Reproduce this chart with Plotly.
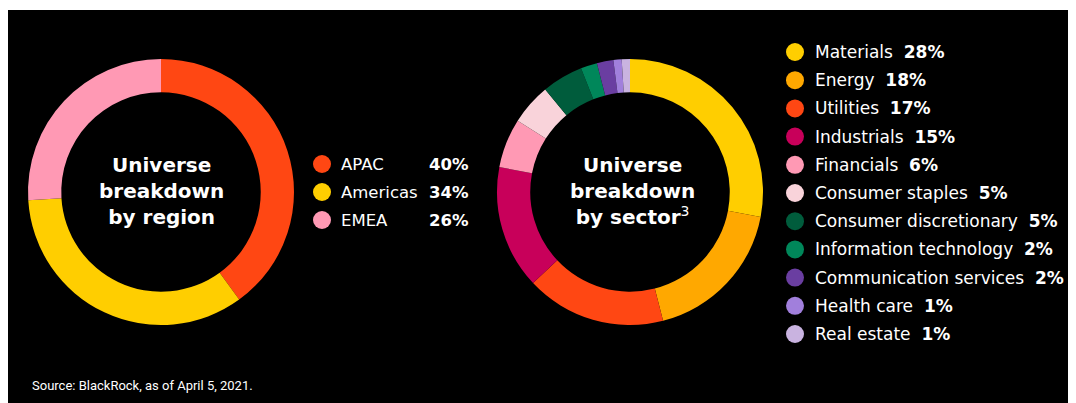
import plotly.graph_objects as go

# ---- data ----
region_labels = ["APAC", "Americas", "EMEA"]
region_values = [40, 34, 26]
region_colors = ["#FF4713", "#FFCE00", "#FF99B4"]

sector_labels = ["Materials", "Energy", "Utilities", "Industrials", "Financials",
                 "Consumer staples", "Consumer discretionary", "Information technology",
                 "Communication services", "Health care", "Real estate"]
sector_values = [28, 18, 17, 15, 6, 5, 5, 2, 2, 1, 1]
sector_colors = ["#FFCE00", "#FFA800", "#FF4713", "#C8005A", "#FF99B4",
                 "#F9D3DA", "#005C3C", "#00875A", "#6A3EA1", "#A17FDC", "#C9B3E0"]

source_text = "Source: BlackRock, as of April 5, 2021."

# page is offset by the default 8px body margin; work in page pixels
OFF = 8
PW, PH = 1076, 403
W, H = PW - OFF, PH - OFF
FONT = "DejaVu Sans"

fig = go.Figure()

def dom(cx, cy, r):
    cx, cy = cx - OFF, cy - OFF
    return dict(x=[(cx - r) / W, (cx + r) / W], y=[1 - (cy + r) / H, 1 - (cy - r) / H])

fig.add_trace(go.Pie(labels=region_labels, values=region_values, sort=False,
                     direction="clockwise", rotation=0, hole=0.75,
                     marker=dict(colors=region_colors, line=dict(width=0)),
                     textinfo="none", hoverinfo="label+percent", showlegend=False,
                     domain=dom(161, 192, 133)))
fig.add_trace(go.Pie(labels=sector_labels, values=sector_values, sort=False,
                     direction="clockwise", rotation=0, hole=0.75,
                     marker=dict(colors=sector_colors, line=dict(width=0)),
                     textinfo="none", hoverinfo="label+percent", showlegend=False,
                     domain=dom(630, 192, 133)))

# legend markers (pixel-space axes)
reg_y = [164 + 28 * i for i in range(len(region_labels))]
sec_y = [52 + 28.2 * i for i in range(len(sector_labels))]
fig.add_trace(go.Scatter(x=[322] * len(region_labels), y=reg_y, mode="markers",
                         marker=dict(size=18, color=region_colors, line=dict(width=0)),
                         hoverinfo="skip", showlegend=False))
fig.add_trace(go.Scatter(x=[795] * len(sector_labels), y=sec_y, mode="markers",
                         marker=dict(size=18, color=sector_colors, line=dict(width=0)),
                         hoverinfo="skip", showlegend=False))

ann = []
for lab, v, y in zip(region_labels, region_values, reg_y):
    ann.append(dict(x=339, y=y, xref="x", yref="y", text=lab, showarrow=False,
                    xanchor="left", yanchor="middle",
                    font=dict(family=FONT, size=16.5, color="#FFFFFF")))
    ann.append(dict(x=471, y=y, xref="x", yref="y", text=f"<b>{v}%</b>", showarrow=False,
                    xanchor="right", yanchor="middle",
                    font=dict(family=FONT, size=16.5, color="#FFFFFF")))
for lab, v, y in zip(sector_labels, sector_values, sec_y):
    ann.append(dict(x=813, y=y, xref="x", yref="y", text=f"{lab}  <b>{v}%</b>", showarrow=False,
                    xanchor="left", yanchor="middle",
                    font=dict(family=FONT, size=17, color="#FFFFFF")))

ann.append(dict(x=161, y=191, xref="x", yref="y",
                text="<b>Universe<br>breakdown<br>by region</b>", showarrow=False,
                xanchor="center", yanchor="middle",
                font=dict(family=FONT, size=20, color="#FFFFFF")))
ann.append(dict(x=632, y=191, xref="x", yref="y",
                text="<b>Universe<br>breakdown<br>by sector</b><sup>3</sup>", showarrow=False,
                xanchor="center", yanchor="middle",
                font=dict(family=FONT, size=20, color="#FFFFFF")))
ann.append(dict(x=30, y=385, xref="x", yref="y", text=source_text, showarrow=False,
                xanchor="left", yanchor="middle",
                font=dict(family="Liberation Sans Narrow, Roboto", size=13,
                          color="#FFFFFF")))

fig.update_layout(
    width=W, height=H, margin=dict(l=0, r=0, t=0, b=0),
    paper_bgcolor="#000000", plot_bgcolor="rgba(0,0,0,0)",
    xaxis=dict(range=[OFF, PW], visible=False, fixedrange=True),
    yaxis=dict(range=[PH, OFF], visible=False, fixedrange=True),
    shapes=[dict(type="rect", xref="x", yref="y", x0=OFF - 1, x1=PW + 2, y0=OFF - 1, y1=10,
                 fillcolor="#FFFFFF", line=dict(width=0), layer="below")],
    annotations=ann,
)

fig.write_html("out.html")
